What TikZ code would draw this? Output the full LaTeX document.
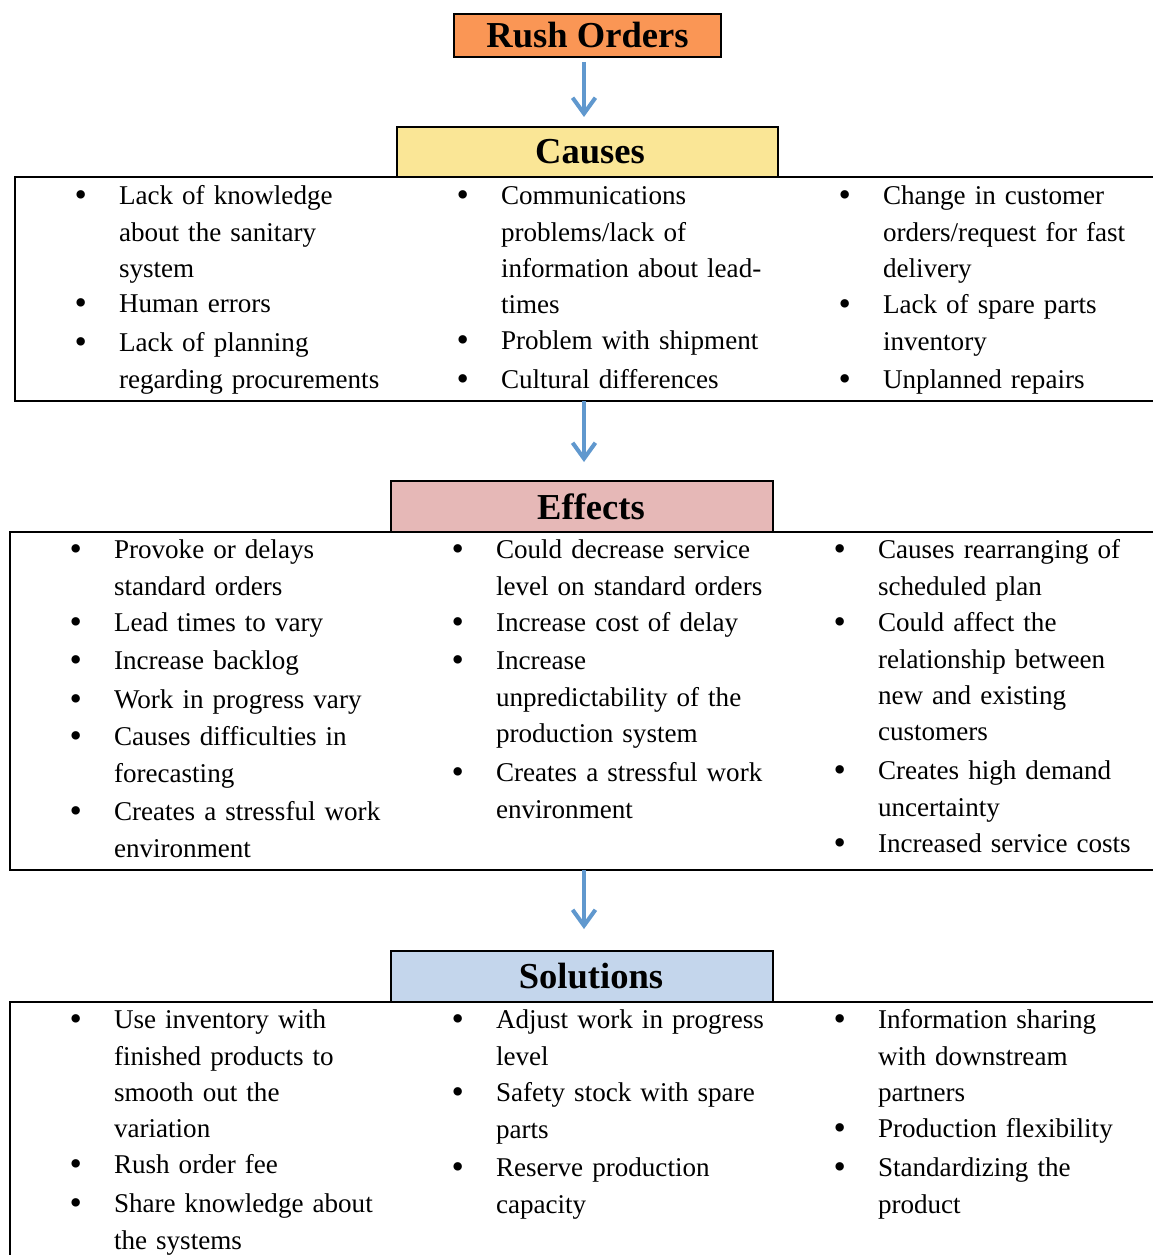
\documentclass[tikz,border=0pt]{standalone}
\usepackage{fontspec}
\usetikzlibrary{arrows.meta}
\newfontfamily\bodyfont{Liberation Serif}
\newlength\px
\setlength\px{0.02cm}
\definecolor{rushfill}{RGB}{250,150,85}
\definecolor{causefill}{RGB}{250,230,150}
\definecolor{effectfill}{RGB}{230,184,183}
\definecolor{solfill}{RGB}{196,214,236}
\definecolor{flowblue}{RGB}{96,152,206}
% one bulleted entry: name, text x, baseline y, lines
\newcommand\entry[4]{\node[entrytext] (#1) at (#2,#3-25.45) {#4};}
\newcommand\dotmark{\raisebox{-0.05em}{\scalebox{1.3}{\textbullet}}}
\begin{document}
\begin{tikzpicture}[x=0.02cm,y=-0.02cm,
  header/.style={draw=black, line width=1.1pt, inner sep=0pt, outer sep=0pt,
    font=\bodyfont\bfseries\fontsize{20.8pt}{24pt}\selectfont},
  panel/.style={draw=black, line width=1.1pt, inner sep=0pt, outer sep=0pt,
    anchor=north west},
  entrytext/.style={anchor=north west, inner sep=0pt, outer sep=0pt,
    text width=440\px, align=left,
    font=\bodyfont\fontsize{15.42pt}{20.63pt}\selectfont,
    execute at begin node={\noindent\strut\llap{\makebox[44.5\px][l]{\dotmark}}}},
  flow/.style={draw=flowblue, line width=2.3pt,
    -{Straight Barb[length=9pt, width=13pt]}}]
\clip (0,0) rectangle (1153,1255);
\coordinate (axis) at (584,0);

% section panels
\node[panel, minimum width=1150\px, minimum height=224\px] (causesbox) at (15,177) {};
\node[panel, minimum width=1155\px, minimum height=338\px] (effectsbox) at (10,532) {};
\node[panel, minimum width=1155\px, minimum height=300\px] (solbox) at (10,1002) {};

% headers
\node[header, fill=rushfill, minimum width=267\px, minimum height=43\px] (rush) at (587.5,35.5) {Rush Orders};
\node[header, fill=causefill, minimum width=381\px, minimum height=50\px] (causes) at (587.5,152) {\hspace*{5\px}Causes};
\node[header, fill=effectfill, minimum width=382\px, minimum height=51\px] (effects) at (582,506.5) {\hspace*{18\px}Effects};
\node[header, fill=solfill, minimum width=382\px, minimum height=51\px] (solutions) at (582,976.5) {\hspace*{18\px}Solutions};

% flow arrows
\draw[flow, shorten <=2.8pt, shorten >=5.7pt] (rush.south -| axis) -- (causes.north -| axis);
\draw[flow, shorten >=10.8pt] (causesbox.south -| axis) -- (effects.north -| axis);
\draw[flow, shorten >=12.5pt] (effectsbox.south -| axis) -- (solutions.north -| axis);

% causes
\entry{c11}{119}{205}{Lack of knowledge\\about the sanitary\\system}
\entry{c12}{119}{313}{Human errors}
\entry{c13}{119}{352}{Lack of planning\\regarding procurements}
\entry{c21}{501}{205}{Communications\\problems/lack of\\information about lead-\\times}
\entry{c22}{501}{350}{Problem with shipment}
\entry{c23}{501}{389}{Cultural differences}
\entry{c31}{883}{205}{Change in customer\\orders/request for fast\\delivery}
\entry{c32}{883}{314}{Lack of spare parts\\inventory}
\entry{c33}{883}{389}{Unplanned repairs}

% effects
\entry{e11}{114}{559}{Provoke or delays\\standard orders}
\entry{e12}{114}{632}{Lead times to vary}
\entry{e13}{114}{670}{Increase backlog}
\entry{e14}{114}{709}{Work in progress vary}
\entry{e15}{114}{746}{Causes difficulties in\\forecasting}
\entry{e16}{114}{821}{Creates a stressful work\\environment}
\entry{e21}{496}{559}{Could decrease service\\level on standard orders}
\entry{e22}{496}{632}{Increase cost of delay}
\entry{e23}{496}{670}{Increase\\unpredictability of the\\production system}
\entry{e24}{496}{782}{Creates a stressful work\\environment}
\entry{e31}{878}{559}{Causes rearranging of\\scheduled plan}
\entry{e32}{878}{632}{Could affect the\\relationship between\\new and existing\\customers}
\entry{e33}{878}{780}{Creates high demand\\uncertainty}
\entry{e34}{878}{853}{Increased service costs}

% solutions
\entry{s11}{114}{1029}{Use inventory with\\finished products to\\smooth out the\\variation}
\entry{s12}{114}{1174}{Rush order fee}
\entry{s13}{114}{1213}{Share knowledge about\\the systems}
\entry{s21}{496}{1029}{Adjust work in progress\\level}
\entry{s22}{496}{1102}{Safety stock with spare\\parts}
\entry{s23}{496}{1177}{Reserve production\\capacity}
\entry{s31}{878}{1029}{Information sharing\\with downstream\\partners}
\entry{s32}{878}{1138}{Production flexibility}
\entry{s33}{878}{1177}{Standardizing the\\product}
\end{tikzpicture}
\end{document}
